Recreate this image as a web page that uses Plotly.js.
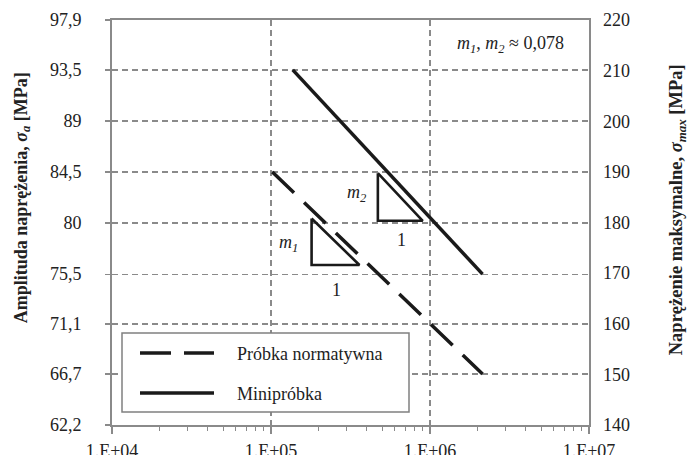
<!DOCTYPE html>
<html><head><meta charset="utf-8">
<script src="https://cdn.plot.ly/plotly-3.0.1.min.js"></script>
<style>html,body{margin:0;padding:0;background:#fff}#c{width:688px;height:455px}</style>
</head><body><div id="c"></div>
<script>
// Series
const normN = [1.02e5, 2.14e6];
const normS = [84.5, 66.7];
const miniN = [1.37e5, 2.14e6];
const miniS = [93.5, 75.5];
// Slope triangles (decoration)
const tri1N = [1.80e5, 1.80e5, 3.6e5, 1.80e5];
const tri1S = [80.4, 76.3, 76.3, 80.4];
const tri2N = [4.7e5, 4.7e5, 9.0e5, 4.7e5];
const tri2S = [84.4, 80.2, 80.2, 84.4];
// Ticks
const xTickVals = [1e4, 1e5, 1e6, 1e7];
const xTickText = ['1.E+04', '1.E+05', '1.E+06', '1.E+07'];
const yTickVals = [62.2, 66.7, 71.1, 75.5, 80, 84.5, 89, 93.5, 97.9];
const yTickText = ['62,2', '66,7', '71,1', '75,5', '80', '84,5', '89', '93,5', '97,9'];
const y2TickVals = [140, 150, 160, 170, 180, 190, 200, 210, 220];
const legendNames = ['Próbka normatywna', 'Minipróbka'];

const F = 'Liberation Serif, Times New Roman, serif';
const INK = '#1a1a1a';
const GRID = '#8a8a8a';
const FS = 18;

const traces = [
  {x: normN, y: normS, mode: 'lines', line: {color: INK, width: 3.5, dash: '30px,14px'}, hoverinfo: 'skip', name: legendNames[0]},
  {x: miniN, y: miniS, mode: 'lines', line: {color: INK, width: 3.5}, hoverinfo: 'skip', name: legendNames[1]},
  {x: tri1N, y: tri1S, mode: 'lines', line: {color: INK, width: 2.6}, hoverinfo: 'skip'},
  {x: tri2N, y: tri2S, mode: 'lines', line: {color: INK, width: 2.6}, hoverinfo: 'skip'},
  {x: [null], y: [null], yaxis: 'y2', mode: 'lines', hoverinfo: 'skip'}
];

function px2x(p){return (p-112)/477;}
function py2y(p){return (425-p)/405.5;}
function ann(px, py, text, opts){
  return Object.assign({xref: 'paper', yref: 'paper', x: px2x(px), y: py2y(py), xanchor: 'center', yanchor: 'middle',
    showarrow: false, text: text, font: {family: F, size: FS, color: '#222'}}, opts || {});
}

const layout = {
  width: 688, height: 455,
  margin: {l: 112, r: 99, t: 20, b: 30},
  paper_bgcolor: '#fff', plot_bgcolor: '#fff',
  showlegend: false,
  font: {family: F, size: FS, color: '#222'},
  xaxis: {
    type: 'log', range: [4, 7],
    tickvals: xTickVals, ticktext: xTickText,
    ticks: 'outside', ticklen: 7, tickcolor: GRID, tickwidth: 1.2,
    ticklabelstandoff: 1,
    minor: {ticks: 'outside', ticklen: 4, tickcolor: GRID, dtick: 'D1', showgrid: false},
    showgrid: true, gridcolor: GRID, gridwidth: 1.2, griddash: '6px,4px',
    showline: true, linecolor: GRID, linewidth: 2, mirror: true,
    zeroline: false, tickfont: {family: F, size: FS, color: '#222'}
  },
  yaxis: {
    range: [62.2, 97.9],
    tickvals: yTickVals, ticktext: yTickText,
    ticks: 'outside', ticklen: 5, tickcolor: GRID, tickwidth: 1.2,
    ticklabelstandoff: 20,
    showgrid: true, gridcolor: GRID, gridwidth: 1.2, griddash: '6px,4px',
    showline: true, linecolor: GRID, linewidth: 2, mirror: true,
    zeroline: false, tickfont: {family: F, size: FS, color: '#222'}
  },
  yaxis2: {
    overlaying: 'y', side: 'right', range: [140, 220],
    tickvals: y2TickVals, ticks: '', showgrid: false, showline: false, zeroline: false,
    ticklabelstandoff: 13,
    tickfont: {family: F, size: FS, color: '#222'}
  },
  shapes: [
    {type: 'rect', xref: 'paper', yref: 'paper', x0: px2x(122), x1: px2x(409), y0: py2y(412), y1: py2y(333),
     fillcolor: '#fff', line: {color: '#808080', width: 1.5}, layer: 'above'},
    {type: 'line', xref: 'paper', yref: 'paper', x0: px2x(140), x1: px2x(214), y0: py2y(353), y1: py2y(353),
     line: {color: INK, width: 3.5, dash: '31px,13px'}, layer: 'above'},
    {type: 'line', xref: 'paper', yref: 'paper', x0: px2x(140), x1: px2x(214), y0: py2y(393), y1: py2y(393),
     line: {color: INK, width: 3.5}, layer: 'above'}
  ],
  annotations: [
    ann(235, 354, legendNames[0], {xanchor: 'left'}),
    ann(235, 394, legendNames[1], {xanchor: 'left'}),
    ann(510, 44, '<i>m</i><sub><i>1</i></sub>, <i>m</i><sub><i>2</i></sub> ≈ 0,078'),
    ann(288, 243, '<i>m</i><sub><i>1</i></sub>'),
    ann(357, 193, '<i>m</i><sub><i>2</i></sub>'),
    ann(336, 290, '1'),
    ann(401, 240, '1'),
    ann(22, 198, '<b>Amplituda naprężenia, <i>σ<sub>a</sub></i> [MPa]</b>', {textangle: -90}),
    ann(677, 210, '<b>Naprężenie maksymalne, <i>σ<sub>max</sub></i> [MPa]</b>', {textangle: -90, font: {family: F, size: 18.5, color: '#222'}})
  ]
};

Plotly.newPlot('c', traces, layout, {staticPlot: true, displayModeBar: false});
</script>
</body></html>
